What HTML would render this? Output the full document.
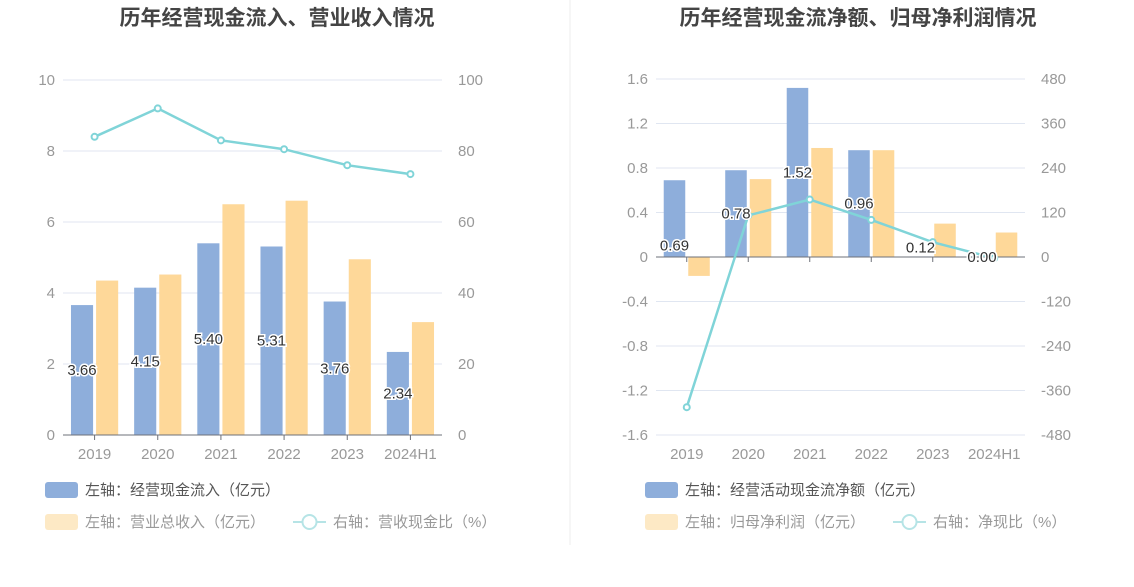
<!DOCTYPE html>
<html><head><meta charset="utf-8"><style>
body{margin:0;background:#fff;width:1134px;height:582px;overflow:hidden;font-family:"Liberation Sans","Noto Sans CJK SC",sans-serif}
svg text{font-family:"Liberation Sans","Noto Sans CJK SC",sans-serif}
</style></head><body>
<svg id="s" width="1134" height="582">
<line x1="570" y1="0" x2="570" y2="545" stroke="#eee"/>
<text x="277" y="25" text-anchor="middle" font-size="21" font-weight="bold" fill="#444">历年经营现金流入、营业收入情况</text>
<text x="858" y="25" text-anchor="middle" font-size="21" font-weight="bold" fill="#444">历年经营现金流净额、归母净利润情况</text>
<g id="L"></g><g id="R"></g>
<g>
<rect x="45" y="482" width="33" height="16" rx="3" fill="#8eaedb"/>
<text x="85" y="495" font-size="15" fill="#555">左轴：经营现金流入（亿元）</text>
<rect x="45" y="514" width="33" height="16" rx="3" fill="#fde9c5"/>
<text x="85" y="527" font-size="15" fill="#999">左轴：营业总收入（亿元）</text>
<line x1="293" y1="522" x2="326" y2="522" stroke="#b6e4e6" stroke-width="2"/>
<circle cx="309.5" cy="522" r="7" fill="#fff" stroke="#b6e4e6" stroke-width="2"/>
<text x="333" y="527" font-size="15" fill="#999">右轴：营收现金比（%）</text>
</g>
<g>
<rect x="645" y="482" width="33" height="16" rx="3" fill="#8eaedb"/>
<text x="685" y="495" font-size="15" fill="#555">左轴：经营活动现金流净额（亿元）</text>
<rect x="645" y="514" width="33" height="16" rx="3" fill="#fde9c5"/>
<text x="685" y="527" font-size="15" fill="#999">左轴：归母净利润（亿元）</text>
<line x1="893" y1="522" x2="926" y2="522" stroke="#b6e4e6" stroke-width="2"/>
<circle cx="909.5" cy="522" r="7" fill="#fff" stroke="#b6e4e6" stroke-width="2"/>
<text x="933" y="527" font-size="15" fill="#999">右轴：净现比（%）</text>
</g>
</svg>
<script>
const categories=["2019","2020","2021","2022","2023","2024H1"];
const leftInflow=[3.66,4.15,5.40,5.31,3.76,2.34];
const leftRevenue=[4.35,4.52,6.50,6.60,4.95,3.18];
const leftRatio=[84,92,83,80.5,76,73.5];
const leftTicksL=[0,2,4,6,8,10];
const leftTicksR=[0,20,40,60,80,100];
const rightNetFlow=[0.69,0.78,1.52,0.96,0.005,0.001];
const rightNetFlowLabels=["0.69","0.78","1.52","0.96","0.12","0.00"];
const rightProfit=[-0.17,0.70,0.98,0.96,0.30,0.22];
const rightRatio=[-405,112,155,100,40,-3];
const rightTicksL=[-1.6,-1.2,-0.8,-0.4,0,0.4,0.8,1.2,1.6];
const rightTicksR=[-480,-360,-240,-120,0,120,240,360,480];
const leftLabelShift=[0,0,0,0,0,0];
const rightLabelShift=[27,0,0,0,-9,0];
const NS="http://www.w3.org/2000/svg";
function mk(p,t,a){const e=document.createElementNS(NS,t);for(const k in a)e.setAttribute(k,a[k]);p.appendChild(e);return e;}
function draw(g,o){
 const {x0,x1,yTop,yBot,lmin,lmax,rmin,rmax,ticksL,ticksR,blue,yellow,line,labels,shift,pre}=o;
 const band=(x1-x0)/categories.length;
 const yL=v=>yBot-(v-lmin)/(lmax-lmin)*(yBot-yTop);
 const yR=v=>yBot-(v-rmin)/(rmax-rmin)*(yBot-yTop);
 const xc=i=>x0+band*(i+0.5);
 ticksL.forEach((t,i)=>{
  const gl=mk(g,'line',{x1:x0,x2:x1,y1:yL(t),y2:yL(t),stroke:'#e0e6f1'});
  
  const tl=mk(g,'text',{x:x0-8,y:yL(t)+5,'text-anchor':'end','font-size':15,fill:'#999'});tl.textContent=String(t);
  
  const tr=mk(g,'text',{x:x1+16,y:yL(t)+5,'font-size':15,fill:'#999'});tr.textContent=String(ticksR[i]);
  
 });
 const z=yL(0);
 const bw=band*0.35;
 categories.forEach((c,i)=>{
  const b=mk(g,'rect',{x:xc(i)-bw-1.5,y:Math.min(yL(blue[i]),z),width:bw,height:Math.abs(yL(blue[i])-z),fill:'#8eaedb'});
  
  const y=mk(g,'rect',{x:xc(i)+1.5,y:Math.min(yL(yellow[i]),z),width:bw,height:Math.abs(yL(yellow[i])-z),fill:'#fed899'});
  
 });
 mk(g,'line',{x1:x0,x2:x1,y1:z,y2:z,stroke:'#6e7079'});
 categories.forEach((c,i)=>{
  mk(g,'line',{x1:x0+band*(i+1)-band/2,x2:x0+band*(i+1)-band/2,y1:z,y2:z+5,stroke:'#6e7079'});
  const t=mk(g,'text',{x:xc(i),y:yBot+24,'text-anchor':'middle','font-size':15,fill:'#999'});t.textContent=c;
  
 });
 const pts=line.map((v,i)=>xc(i)+','+yR(v)).join(' ');
 const pl=mk(g,'polyline',{points:pts,fill:'none',stroke:'#80d4d8','stroke-width':2.5});
 
 line.forEach((v,i)=>{
  const c=mk(g,'circle',{cx:xc(i),cy:yR(v),r:3,fill:'#fff',stroke:'#80d4d8','stroke-width':2});
  
 });
 categories.forEach((c,i)=>{
  const lx=xc(i)-bw/2-1.5, ly=(z+yL(blue[i]))/2+5+shift[i];
  const t=mk(g,'text',{x:lx,y:ly,'text-anchor':'middle','font-size':15,fill:'#333',stroke:'#fff','stroke-width':3,'paint-order':'stroke'});
  t.textContent=labels[i];
  
 });
}
draw(document.getElementById('L'),{x0:63,x1:442,yTop:80,yBot:435,lmin:0,lmax:10,rmin:0,rmax:100,ticksL:leftTicksL,ticksR:leftTicksR,blue:leftInflow,yellow:leftRevenue,line:leftRatio,labels:leftInflow.map(v=>v.toFixed(2)),shift:leftLabelShift,pre:'left-'});
draw(document.getElementById('R'),{x0:656,x1:1025,yTop:79,yBot:435,lmin:-1.6,lmax:1.6,rmin:-480,rmax:480,ticksL:rightTicksL,ticksR:rightTicksR,blue:rightNetFlow,yellow:rightProfit,line:rightRatio,labels:rightNetFlowLabels,shift:rightLabelShift,pre:'right-'});
</script>
</body></html>
